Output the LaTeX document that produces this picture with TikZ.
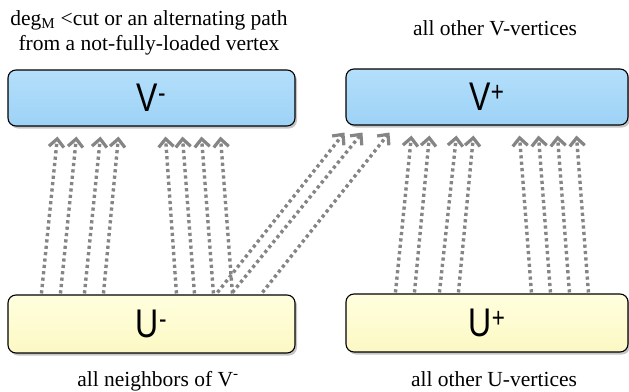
\documentclass[tikz,border=0pt]{standalone}
\usepackage{fontspec}
\setmainfont{Liberation Serif}
\newfontfamily\capfont{Liberation Serif}
\newfontfamily\boxfont[FakeStretch=0.8]{Liberation Sans}
\usetikzlibrary{arrows.meta,shadows}
\definecolor{vtop}{HTML}{B4DFFB}
\definecolor{vbot}{HTML}{9DD2F6}
\definecolor{utop}{HTML}{FFFFDE}
\definecolor{ubot}{HTML}{FCF8C4}
\definecolor{arrgray}{HTML}{858585}
\tikzset{
  setbox/.style={draw=black, line width=1.1pt, rounded corners=8pt,
    drop shadow={shadow xshift=2pt, shadow yshift=-2.5pt, opacity=0.45},
    font=\boxfont\fontsize{40}{40}\selectfont, inner sep=0pt},
  vbox/.style={setbox, top color=vtop, bottom color=vbot,
    minimum width=287pt, minimum height=56pt},
  ubox/.style={setbox, top color=utop, bottom color=ubot,
    minimum width=287pt, minimum height=58pt},
  caption/.style={font=\capfont\fontsize{21.5}{25}\selectfont, anchor=base, inner sep=0pt},
  arr/.style={draw=arrgray, line width=3.4pt, dash pattern=on 3.2pt off 3.2pt,
    -{Straight Barb[length=8pt,width=15pt,line width=3.2pt]}}
}
\begin{document}
\begin{tikzpicture}[x=1pt,y=-1pt]
\useasboundingbox (0,0) rectangle (629,391);
% boxes
\node[vbox] (Vm) at (151.5,98) {V\textsuperscript{-}};
\node[vbox, minimum width=282pt] (Vp) at (487,97) {V\textsuperscript{+}};
\node[ubox] (Um) at (151.5,324) {U\textsuperscript{-}};
\node[ubox, minimum width=282pt] (Up) at (487,323) {U\textsuperscript{+}};
% captions
\node[caption] (t1) at (149,25) {deg\textsubscript{M} <cut or an alternating path};
\node[caption] (t2) at (149,50) {from a not-fully-loaded vertex};
\node[caption] (t3) at (495,35) {all other V-vertices};
\node[caption] (t4) at (158,386) {all neighbors of V\textsuperscript{-}};
\node[caption] (t5) at (494,386) {all other U-vertices};
% arrows
\foreach \a/\b in {34/50,53/69,77/93,96/111,169/158,187/175,206/194,225/213}
  \draw[arr] ([xshift=\a pt, yshift=1pt]Um.north west) -- ([xshift=\b pt, yshift=-10pt]Vm.south west);
\foreach \a/\b in {210/-1,225/17,255/44}
  \draw[arr] ([xshift=\a pt, yshift=2pt]Um.north west) -- ([xshift=\b pt, yshift=-7pt]Vp.south west);
\foreach \a/\b in {50/66,69/84,94/111,113/128,186/174,205/193,224/212,243/231}
  \draw[arr] ([xshift=\a pt, yshift=1pt]Up.north west) -- ([xshift=\b pt, yshift=-10pt]Vp.south west);
\end{tikzpicture}
\end{document}
